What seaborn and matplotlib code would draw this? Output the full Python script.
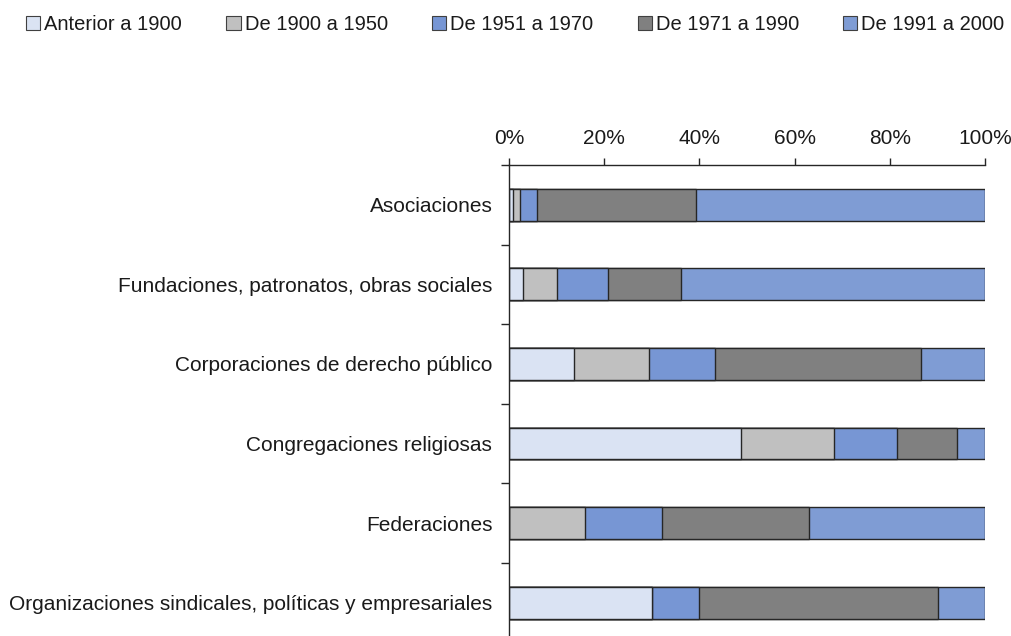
import matplotlib.pyplot as plt
import pandas as pd
import seaborn as sns
import numpy as np
from matplotlib.patches import Patch

# Data (percent of entities by founding period)
categories = [
    'Asociaciones',
    'Fundaciones, patronatos, obras sociales',
    'Corporaciones de derecho público',
    'Congregaciones religiosas',
    'Federaciones',
    'Organizaciones sindicales, políticas y empresariales',
]
periods = ['Anterior a 1900', 'De 1900 a 1950', 'De 1951 a 1970', 'De 1971 a 1990', 'De 1991 a 2000']
antes_1900 = [0.8, 3.0, 13.7, 48.8, 0.0, 30.0]
p1900_1950 = [1.6, 7.0, 15.8, 19.5, 16.0, 0.0]
p1951_1970 = [3.4, 10.8, 13.7, 13.1, 16.2, 10.0]
p1971_1990 = [33.5, 15.3, 43.3, 12.7, 30.8, 50.0]
p1991_2000 = [60.7, 63.9, 13.5, 5.9, 37.0, 10.0]
colors = ['#dae3f3', '#c0c0c0', '#7796d4', '#808080', '#7f9cd4']

df = pd.DataFrame({
    'Tipo': categories,
    periods[0]: antes_1900,
    periods[1]: p1900_1950,
    periods[2]: p1951_1970,
    periods[3]: p1971_1990,
    periods[4]: p1991_2000,
})
cum = df[periods].cumsum(axis=1)
cum['Tipo'] = df['Tipo']

sns.set_style('white')
plt.rcParams['font.family'] = ['Liberation Sans', 'DejaVu Sans']
txt = '#1a1a1a'

fig = plt.figure(figsize=(10.12, 6.36), dpi=100)
ax = fig.add_axes([0.503, -0.0102, 0.4705, 0.7508])

# draw stacked bars: largest cumulative first
for period, color in reversed(list(zip(periods, colors))):
    sns.barplot(data=cum, x=period, y='Tipo', order=categories, orient='h',
                color=color, saturation=1, width=0.4, edgecolor='#262626',
                linewidth=1.0, ax=ax)

ax.set_xlim(0, 100)
ax.set_ylim(5.5, -0.5)
ax.xaxis.tick_top()
ax.set_xticks(np.arange(0, 101, 20))
ax.set_xticklabels([f'{v}%' for v in range(0, 101, 20)])
ax.set_xlabel('')
ax.set_ylabel('')
ax.tick_params(axis='x', top=True, length=5, width=1, color='#262626',
               labelsize=15, pad=7, labelcolor=txt)
ax.tick_params(axis='y', which='major', length=0, labelsize=15, pad=12,
               labelcolor=txt)
ax.set_yticks(np.arange(-0.5, 5.6, 1.0), minor=True)
ax.tick_params(axis='y', which='minor', left=True, length=6, width=1,
               color='#262626')

for s in ['right', 'bottom']:
    ax.spines[s].set_visible(False)
for s in ['left', 'top']:
    ax.spines[s].set_color('#262626')
    ax.spines[s].set_linewidth(1.0)

handles = [Patch(facecolor=c, edgecolor='#404040', linewidth=0.8, label=p)
           for p, c in zip(periods, colors)]
fig.legend(handles=handles, loc='center left', bbox_to_anchor=(0.026, 0.962),
           ncol=5, frameon=False, fontsize=14.5, handlelength=0.7,
           handleheight=0.7, handletextpad=0.2, columnspacing=2.2,
           borderaxespad=0.0, borderpad=0.0, labelcolor=txt)

fig.savefig('out.png', dpi=100)
